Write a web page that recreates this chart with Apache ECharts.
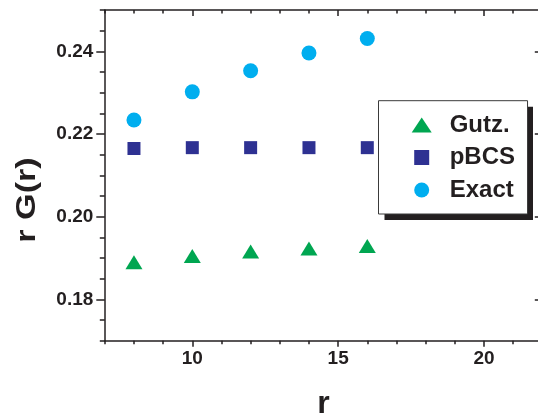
<!DOCTYPE html>
<html><head><meta charset="utf-8">
<script src="https://cdn.jsdelivr.net/npm/echarts@6/dist/echarts.min.js"></script>
<style>html,body{margin:0;padding:0;background:#fff}#c{width:538px;height:414px}</style>
</head><body><div id="c"></div>
<script>
// ---- data ----
const rValues = [8, 10, 12, 14, 16];
const gutzValues = [0.1890, 0.1905, 0.1916, 0.1923, 0.1929];
const pbcsValues = [0.2165, 0.2167, 0.2167, 0.2167, 0.2167];
const exactValues = [0.2234, 0.2302, 0.2353, 0.2396, 0.2431];
const seriesNames = ['Gutz.', 'pBCS', 'Exact'];
const xMajorTicks = [10, 15, 20];
const xMinorTicks = [7, 8, 9, 11, 12, 13, 14, 16, 17, 18, 19, 21, 22];
const yMajorTicks = [0.18, 0.20, 0.22, 0.24];
const yMinorTicks = [0.17, 0.175, 0.185, 0.19, 0.195, 0.205, 0.21, 0.215, 0.225, 0.23, 0.235, 0.245, 0.25];
const xTitle = 'r';
const yTitle = 'r G(r)';

// ---- style ----
const INK = '#231F20';
const FONT = '"Liberation Sans", Arial, sans-serif';
const X_RANGE = [7, 22];
const Y_RANGE = [0.17, 0.25];

function makeAxis(dim, pos, ticks, len, inside, withLabels, withLine) {
  const range = dim === 'x' ? X_RANGE : Y_RANGE;
  return {
    type: 'value', position: pos, min: range[0], max: range[1],
    axisLine: { show: withLine, onZero: false, lineStyle: { color: INK, width: 1.5 } },
    axisTick: { show: true, customValues: ticks, length: len, inside: inside, lineStyle: { color: INK, width: 1.5 } },
    axisLabel: withLabels ? {
      show: true, customValues: ticks, color: INK, fontFamily: FONT, fontWeight: 'bold', fontSize: 19,
      margin: dim === 'x' ? 9 : 11.5,
      formatter: dim === 'x' ? (v => String(v)) : (v => v.toFixed(2))
    } : { show: false },
    splitLine: { show: false }
  };
}

const xAxes = [
  makeAxis('x', 'bottom', xMajorTicks, 6, false, true, true),
  makeAxis('x', 'bottom', xMinorTicks, 3.5, false, false, false),
  makeAxis('x', 'top', xMajorTicks, 6, true, false, true),
  makeAxis('x', 'top', xMinorTicks, 3.5, true, false, false)
];
Object.assign(xAxes[0], {
  name: xTitle, nameLocation: 'middle', nameGap: 47,
  nameTextStyle: { color: INK, fontFamily: FONT, fontWeight: 'bold', fontSize: 32 }
});
const yAxes = [
  makeAxis('y', 'left', yMajorTicks, 8.5, false, true, true),
  makeAxis('y', 'left', yMinorTicks, 5, false, false, false),
  makeAxis('y', 'right', yMajorTicks, 7.5, true, false, true),
  makeAxis('y', 'right', yMinorTicks, 4, true, false, false)
];

function pairs(vals) { return rValues.map((r, i) => [r, vals[i]]); }

const chart = echarts.init(document.getElementById('c'), null, { renderer: 'canvas' });
chart.setOption({
  animation: false,
  backgroundColor: '#ffffff',
  textStyle: { fontFamily: FONT },
  grid: { left: 104.8, right: -4.3, top: 10, bottom: 73.3, containLabel: false, outerBoundsMode: 'none' },
  xAxis: xAxes,
  yAxis: yAxes,
  legend: {
    orient: 'vertical', left: 378.5, top: 100.7, z: 5,
    padding: [12.3, 12.5, 12, 33.2],
    itemWidth: 46, itemHeight: 15, itemGap: 8.5,
    backgroundColor: '#ffffff', borderColor: '#3a3a3a', borderWidth: 1,
    textStyle: { color: INK, fontFamily: FONT, fontWeight: 'bold', fontSize: 24, lineHeight: 24 },
    data: [
      { name: seriesNames[0], icon: 'path://M0,15L10,0L20,15Z' },
      { name: seriesNames[1], icon: 'path://M0,0H10V10H0Z' },
      { name: seriesNames[2], icon: 'path://M10,0A10,10,0,1,1,10,20A10,10,0,1,1,10,0Z' }
    ]
  },
  graphic: [
    { type: 'rect', z: 1, shape: { x: 384.5, y: 106.7, width: 148.5, height: 113.3 },
      style: { fill: INK }, silent: true },
    { type: 'text', x: 27, y: 200, rotation: Math.PI / 2, scaleX: 1.22,
      style: {
        text: yTitle, fill: INK, font: 'bold 28px ' + FONT,
        align: 'center', verticalAlign: 'middle', textAlign: 'center', textVerticalAlign: 'middle'
      } }
  ],
  series: [
    { name: seriesNames[0], type: 'scatter', xAxisIndex: 0, yAxisIndex: 0, symbol: 'triangle', symbolSize: [17, 14],
      itemStyle: { color: '#00A651', opacity: 1 }, data: pairs(gutzValues) },
    { name: seriesNames[1], type: 'scatter', xAxisIndex: 0, yAxisIndex: 0, symbol: 'rect', symbolSize: 13,
      itemStyle: { color: '#2E3192', opacity: 1 }, data: pairs(pbcsValues) },
    { name: seriesNames[2], type: 'scatter', xAxisIndex: 0, yAxisIndex: 0, symbol: 'circle', symbolSize: 15,
      itemStyle: { color: '#00AEEF', opacity: 1 }, data: pairs(exactValues) }
  ]
});
</script></body></html>
